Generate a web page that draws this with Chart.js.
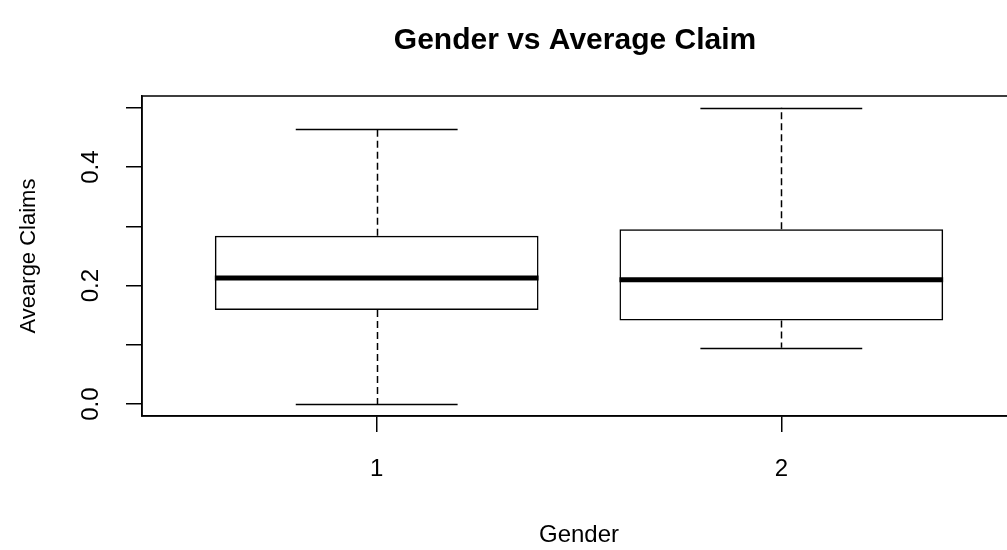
<!DOCTYPE html>
<html>
<head>
<meta charset="utf-8">
<title>Gender vs Average Claim</title>
<script src="https://cdn.jsdelivr.net/npm/chart.js@4.4.1/dist/chart.umd.min.js"></script>
<style>
    html, body { margin: 0; padding: 0; background: #fff; overflow: hidden; }
    #wrap { width: 1007px; height: 550px; overflow: hidden; }
</style>
</head>
<body>
<div id="wrap">
    <canvas id="boxChart" width="1160" height="550"></canvas>
</div>
<script>
// five-number summaries per gender group
const categories = ['1', '2'];
const lowerWhisker = [0.000, 0.095];
const q1 = [0.159, 0.141];
const median = [0.213, 0.210];
const q3 = [0.284, 0.295];
const upperWhisker = [0.464, 0.500];

const yTicks = [0.0, 0.1, 0.2, 0.3, 0.4, 0.5];
const yLabelled = [0.0, 0.2, 0.4];

const chartTitle = 'Gender vs Average Claim';
const FONT = 'Liberation Sans, Arial, sans-serif';

// whiskers, staples, medians, frame and the main title
const boxExtras = {
    id: 'boxExtras',
    afterDatasetsDraw(chart) {
        const ctx = chart.ctx;
        const xs = chart.scales.x;
        const ys = chart.scales.y;
        const a = chart.chartArea;
        ctx.save();
        ctx.strokeStyle = '#000';
        categories.forEach((c, i) => {
            const pos = i + 1;
            const cx = Math.round(xs.getPixelForValue(pos)) + 0.5;

            // dashed whiskers
            ctx.lineWidth = 1.5;
            ctx.setLineDash([7, 4]);
            ctx.beginPath();
            ctx.moveTo(cx, ys.getPixelForValue(q3[i]));
            ctx.lineTo(cx, ys.getPixelForValue(upperWhisker[i]));
            ctx.moveTo(cx, ys.getPixelForValue(q1[i]));
            ctx.lineTo(cx, ys.getPixelForValue(lowerWhisker[i]));
            ctx.stroke();
            ctx.setLineDash([]);

            // staples
            const sl = xs.getPixelForValue(pos - 0.2);
            const sr = xs.getPixelForValue(pos + 0.2);
            ctx.beginPath();
            [upperWhisker[i], lowerWhisker[i]].forEach(v => {
                const y = Math.round(ys.getPixelForValue(v)) + 0.5;
                ctx.moveTo(sl, y);
                ctx.lineTo(sr, y);
            });
            ctx.stroke();

            // median
            ctx.lineWidth = 5;
            ctx.beginPath();
            const my = ys.getPixelForValue(median[i]);
            ctx.moveTo(xs.getPixelForValue(pos - 0.4), my);
            ctx.lineTo(xs.getPixelForValue(pos + 0.4), my);
            ctx.stroke();
        });

        // plot frame
        ctx.lineWidth = 1.5;
        ctx.strokeRect(a.left, a.top, a.right - a.left, a.bottom - a.top);

        // title centred over the plot region
        ctx.fillStyle = '#000';
        ctx.font = 'bold 30px ' + FONT;
        ctx.textAlign = 'center';
        ctx.textBaseline = 'middle';
        ctx.fillText(chartTitle, (a.left + a.right) / 2 - 4, 41);
        ctx.restore();
    }
};

const ctx = document.getElementById('boxChart').getContext('2d');
new Chart(ctx, {
    type: 'bar',
    data: {
        datasets: [{
            label: 'Average Claims',
            data: categories.map((c, i) => ({ x: i + 1, y: [q1[i], q3[i]] })),
            backgroundColor: 'rgba(255,255,255,0)',
            borderColor: '#000',
            borderWidth: 1.5,
            borderSkipped: false,
            categoryPercentage: 1,
            barPercentage: 0.8
        }]
    },
    options: {
        responsive: false,
        animation: false,
        events: [],
        layout: { padding: { left: 0, right: 144, top: 96, bottom: 0 } },
        plugins: {
            legend: { display: false },
            tooltip: { enabled: false },
            title: { display: false }
        },
        scales: {
            x: {
                type: 'linear',
                offset: false,
                min: 0.42,
                max: 2.58,
                afterBuildTicks(scale) {
                    scale.ticks = categories.map((c, i) => ({ value: i + 1 }));
                },
                afterFit(scale) { scale.height = 134; },
                grid: {
                    offset: false,
                    drawOnChartArea: false,
                    drawTicks: true,
                    tickLength: 16,
                    color: '#000',
                    lineWidth: 1.5
                },
                border: { display: true, color: '#000', width: 1.5 },
                ticks: {
                    padding: 23,
                    color: '#000',
                    font: { family: FONT, size: 24 },
                    callback: v => categories[Math.round(v) - 1]
                },
                title: {
                    display: true,
                    text: 'Gender',
                    color: '#000',
                    font: { family: FONT, size: 24 },
                    padding: { top: 0, bottom: 0 }
                }
            },
            y: {
                type: 'linear',
                min: -0.02,
                max: 0.52,
                afterBuildTicks(scale) {
                    scale.ticks = yTicks.map(v => ({ value: v }));
                },
                afterFit(scale) { scale.width = 142; },
                grid: {
                    drawOnChartArea: false,
                    drawTicks: true,
                    tickLength: 16,
                    color: '#000',
                    lineWidth: 1.5
                },
                border: { display: true, color: '#000', width: 1.5 },
                ticks: {
                    padding: 18,
                    color: '#000',
                    minRotation: 90,
                    maxRotation: 90,
                    crossAlign: 'center',
                    font: { family: FONT, size: 24 },
                    callback: v => yLabelled.some(t => Math.abs(t - v) < 1e-9) ? v.toFixed(1) : ''
                },
                title: {
                    display: true,
                    text: 'Avearge Claims',
                    color: '#000',
                    font: { family: FONT, size: 22 },
                    padding: { top: 16, bottom: 0 }
                }
            }
        }
    },
    plugins: [boxExtras]
});
</script>
</body>
</html>
